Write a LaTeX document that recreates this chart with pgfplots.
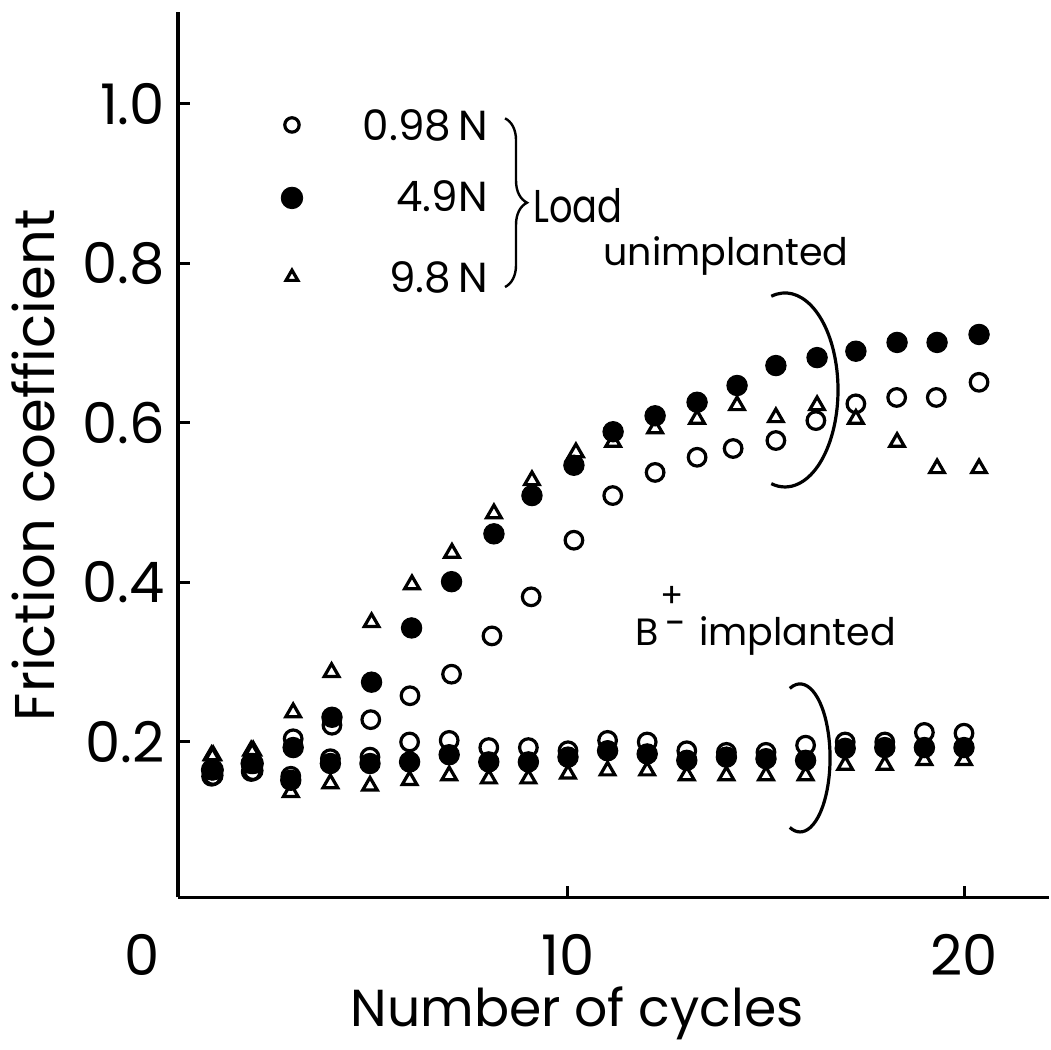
\documentclass[border=0pt]{standalone}
\usepackage{pgfplots}
\pgfplotsset{compat=1.18}
\usepackage{fontspec}
\usepackage{graphicx}
\setmainfont{Poppins}
\usetikzlibrary{decorations.pathreplacing}

\pgfplotstableread{
x y
1.04 0.158
2.05 0.164
3.06 0.204
4.04 0.221
5.02 0.228
6.01 0.258
7.06 0.285
8.08 0.333
9.07 0.382
10.15 0.453
11.13 0.509
12.20 0.538
13.26 0.557
14.17 0.568
15.25 0.578
16.26 0.603
17.27 0.624
18.30 0.632
19.30 0.632
20.38 0.651
}\unopen
\pgfplotstableread{
x y
1.04 0.165
2.05 0.173
3.06 0.193
4.04 0.231
5.04 0.275
6.05 0.343
7.06 0.401
8.13 0.461
9.09 0.509
10.15 0.547
11.14 0.589
12.20 0.609
13.26 0.626
14.27 0.647
15.25 0.672
16.29 0.682
17.27 0.690
18.31 0.701
19.32 0.701
20.38 0.711
}\unfilled
\pgfplotstableread{
x y
1.04 0.183
2.05 0.189
3.06 0.237
4.03 0.2875
5.04 0.350
6.06 0.3975
7.07 0.437
8.13 0.4865
9.09 0.528
10.20 0.563
11.14 0.576
12.20 0.593
13.26 0.605
14.27 0.622
15.25 0.607
16.29 0.622
17.27 0.605
18.31 0.576
19.32 0.543
20.38 0.543
}\untri
\pgfplotstableread{
x y
1 0.157
2 0.163
3 0.157
4 0.179
5 0.181
6 0.200
7 0.202
8 0.193
9 0.193
10 0.189
11 0.202
12 0.200
13 0.189
14 0.187
15 0.187
16 0.196
17 0.200
18 0.200
19 0.212
20 0.211
}\imopen
\pgfplotstableread{
x y
1 0.165
2 0.173
3 0.152
4 0.173
5 0.173
6 0.175
7 0.184
8 0.175
9 0.175
10 0.181
11 0.189
12 0.185
13 0.177
14 0.181
15 0.179
16 0.177
17 0.192
18 0.193
19 0.193
20 0.193
}\imfilled
\pgfplotstableread{
x y
1 0.183
2 0.189
3 0.137
4 0.148
5 0.145
6 0.152
7 0.158
8 0.154
9 0.154
10 0.160
11 0.164
12 0.164
13 0.158
14 0.158
15 0.158
16 0.158
17 0.171
18 0.171
19 0.177
20 0.177
}\imtri

\newcommand{\bigf}{\fontsize{28}{30}\selectfont}
\newcommand{\legf}{\fontsize{21}{23}\selectfont}
\newcommand{\labf}{\fontsize{19}{21}\selectfont}

\begin{document}
\begin{tikzpicture}
\begin{axis}[
  scale only axis, width=435.6pt, height=442.6pt,
  xmin=0.15, xmax=22.15, ymin=0.005, ymax=1.115,
  axis lines=left, axis line style={-, line width=1.7pt, black},
  tick align=inside, major tick length=6pt,
  tick style={line width=1.5pt, black},
  xtick={10,20}, xticklabels={10,20},
  ytick={0.2,0.4,0.6,0.8,1.0}, yticklabels={0.2,0.4,0.6,0.8,1.0},
  ticklabel style={font=\bigf},
  xticklabel style={anchor=base, yshift=-39pt},
  yticklabel style={xshift=-3pt},
  clip=false,
  openm/.style={only marks, mark=o, mark size=4.4pt, mark options={line width=1.6pt, black}},
  fillm/.style={only marks, mark=*, mark size=5.1pt, mark options={line width=0.5pt, black, fill=black}},
  trim/.style={only marks, mark=triangle, mark size=4.2pt, mark options={line width=1.6pt, black}},
]
\path (axis cs:-4.343,-0.1862) rectangle (axis cs:22.197,1.1304);

\addplot[openm] table {\unopen};
\addplot[trim] table {\untri};
\addplot[openm] table {\imopen};
\addplot[trim] table {\imtri};
\addplot[fillm] table {\unfilled};
\addplot[fillm] table {\imfilled};

% legend markers
\addplot[only marks, mark=o, mark size=3.6pt, mark options={line width=1.6pt, black}] coordinates {(3.03,0.9737)};
\addplot[only marks, mark=*, mark size=5.4pt, mark options={black, fill=black}] coordinates {(3.03,0.8822)};
\addplot[only marks, mark=triangle, mark size=3.4pt, mark options={line width=1.6pt, black}] coordinates {(3.03,0.7831)};

\node[anchor=base east, inner sep=0pt, font=\legf] at (axis cs:7.98,0.9548) {0.98\,N};
\node[anchor=base east, inner sep=0pt, font=\legf] at (axis cs:7.98,0.8646) {4.9N};
\node[anchor=base east, inner sep=0pt, font=\legf] at (axis cs:7.98,0.7642) {9.8\,N};
\draw[line width=1.2pt, decorate, decoration={brace, amplitude=11pt}] (axis cs:8.41,0.982) -- (axis cs:8.41,0.7705);
\node[anchor=base west, inner sep=0pt, font=\fontsize{23}{25}\selectfont] at (axis cs:9.12,0.852) {\scalebox{0.8}[1]{Load}};

\node[anchor=base, inner sep=0pt, font=\labf] at (axis cs:13.99,0.798) {unimplanted};
\node[anchor=base west, inner sep=0pt, font=\labf] at (axis cs:11.69,0.3216) {B};
\node[anchor=center, inner sep=0pt, font=\fontsize{17}{17}\selectfont] at (axis cs:12.63,0.382) {+};
\node[anchor=center, inner sep=0pt, font=\labf] at (axis cs:12.72,0.3417) {-};
\node[anchor=base west, inner sep=0pt, font=\labf] at (axis cs:13.30,0.3216) {implanted};

\draw[line width=1.6pt] (axis cs:15.48,0.6414) ++(105:26.5pt and 48.5pt) arc[start angle=105, end angle=-105, x radius=26.5pt, y radius=48.5pt];
\draw[line width=1.6pt] (axis cs:15.86,0.18) ++(110:15pt and 37pt) arc[start angle=110, end angle=-110, x radius=15pt, y radius=37pt];

\node[anchor=base, font=\fontsize{26}{28}\selectfont] at (axis cs:10.23,-0.157) {Number of cycles};
\node[rotate=90, anchor=base, font=\bigf] at (axis cs:-2.955,0.547) {Friction coefficient};
\node[anchor=base, font=\bigf, yshift=-39pt] at (axis cs:-0.75,0.005) {0};
\end{axis}
\end{tikzpicture}
\end{document}
